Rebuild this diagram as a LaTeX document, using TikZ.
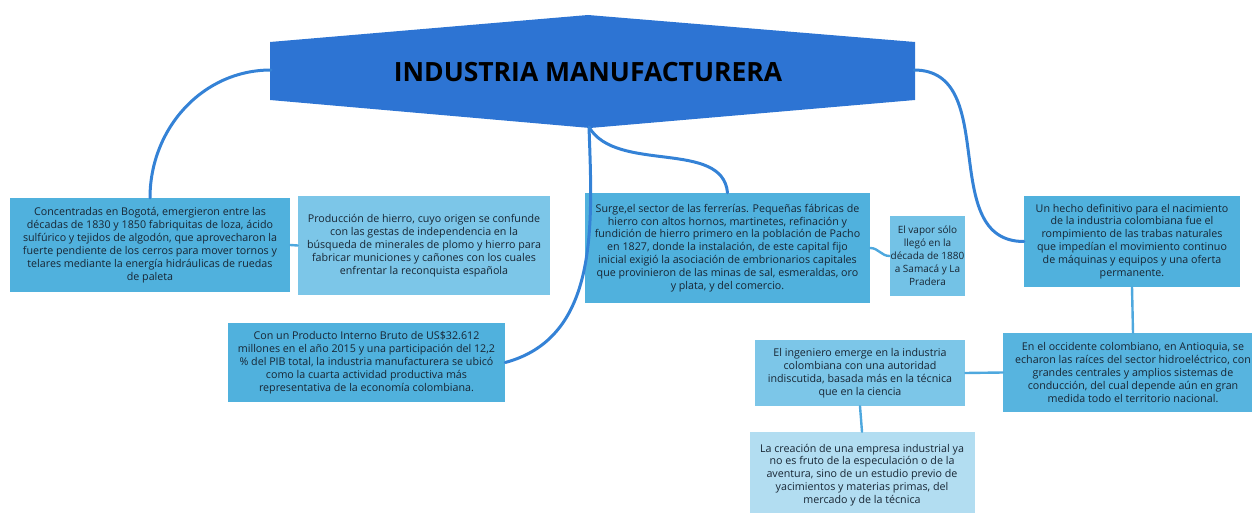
\documentclass[tikz,border=0pt]{standalone}
\usepackage{fontspec}
\setmainfont{Open Sans}
\definecolor{azulhex}{RGB}{45,116,211}
\definecolor{linea}{RGB}{52,130,214}
\definecolor{lineaclara}{RGB}{78,168,222}
\definecolor{cajamedia}{RGB}{80,177,221}
\definecolor{cajaclara}{RGB}{124,198,232}
\definecolor{cajapalida}{RGB}{178,221,241}
\definecolor{textoosc}{RGB}{24,38,52}

\begin{document}
\begin{tikzpicture}[x=1pt,y=-1pt,
  caja/.style={rectangle,fill=cajamedia,text=textoosc,align=center,inner sep=2pt,
    font=\fontsize{10.7}{12.9}\selectfont},
  rama/.style={linea,line width=3pt,line cap=round},
  enlace/.style={lineaclara,line width=2.4pt,line cap=round}]
   \useasboundingbox (0,0) rectangle (1252,513);
   \clip (0,0) rectangle (1252,513);
   % titulo central
   \fill[azulhex] (270,42) -- (588,15) -- (915,42) -- (915,100) -- (590,128) -- (270,100) -- cycle;
   \node[font=\fontsize{26.5}{30}\bfseries\selectfont] (titulo) at (588,72) {INDUSTRIA MANUFACTURERA};
   \coordinate (hexizq) at (271,70);
   \coordinate (hexder) at (914,70);
   \coordinate (hexabajo) at (589,127);
   % cajas
   \node[caja,minimum width=280pt,minimum height=94pt] (bogota) at (150,245)
     {Concentradas en Bogotá, emergieron entre las\\décadas de 1830 y 1850 fabriquitas de loza, ácido\\sulfúrico y tejidos de algodón, que aprovecharon la\\fuerte pendiente de los cerros para mover tornos y\\telares mediante la energía hidráulicas de ruedas\\de paleta};
   \node[caja,fill=cajaclara,minimum width=252pt,minimum height=99pt] (hierro) at (424,245.5)
     {Producción de hierro, cuyo origen se confunde\\con las gestas de independencia en la\\búsqueda de minerales de plomo y hierro para\\fabricar municiones y cañones con los cuales\\enfrentar la reconquista española};
   \node[caja,minimum width=285pt,minimum height=110pt] (ferrerias) at (727.5,248)
     {Surge,el sector de las ferrerías. Pequeñas fábricas de\\hierro con altos hornos, martinetes, refinación y\\fundición de hierro primero en la población de Pacho\\en 1827, donde la instalación, de este capital fijo\\inicial exigió la asociación de embrionarios capitales\\que provinieron de las minas de sal, esmeraldas, oro\\y plata, y del comercio.};
   \node[caja,fill=cajaclara!80!cajamedia,inner sep=1pt,minimum width=75pt,minimum height=80pt,
     font=\fontsize{10}{12.9}\selectfont] (vapor) at (927.5,256)
     {El vapor sólo\\llegó en la\\década de 1880\\a Samacá y La\\Pradera};
   \node[caja,minimum width=216pt,minimum height=91pt] (hecho) at (1132,241.5)
     {Un hecho definitivo para el nacimiento\\de la industria colombiana fue el\\rompimiento de las trabas naturales\\que impedían el movimiento continuo\\de máquinas y equipos y una oferta\\permanente.};
   \node[caja,minimum width=277pt,minimum height=79pt] (pib) at (366.5,362.5)
     {Con un Producto Interno Bruto de US\$32.612\\millones en el año 2015 y una participación del 12,2\\\% del PIB total, la industria manufacturera se ubicó\\como la cuarta actividad productiva más\\representativa de la economía colombiana.};
   \node[caja,fill=cajaclara,minimum width=210pt,minimum height=66pt] (ingeniero) at (860,373)
     {El ingeniero emerge en la industria\\colombiana con una autoridad\\indiscutida, basada más en la técnica\\que en la ciencia};
   \node[caja,fill=cajamedia!85!cajaclara,minimum width=260pt,minimum height=79pt] (occidente) at (1133,372.5)
     {En el occidente colombiano, en Antioquia, se\\echaron las raíces del sector hidroeléctrico, con\\grandes centrales y amplios sistemas de\\conducción, del cual depende aún en gran\\medida todo el territorio nacional.};
   \node[caja,fill=cajapalida,minimum width=225pt,minimum height=86pt] (empresa) at (862,475)
     {La creación de una empresa industrial ya\\no es fruto de la especulación o de la\\aventura, sino de un estudio previo de\\yacimientos y materias primas, del\\mercado y de la técnica};
   % ramas
   \draw[rama] (hexizq) to[out=180,in=90] (bogota.north);
   \draw[rama] (hexabajo) to[out=-88,in=15] (pib.east);
   \draw[rama] (hexabajo) to[out=-60,in=95,looseness=0.9] (ferrerias.north);
   \draw[rama] (hexder) to[out=0,in=180,looseness=1.1] (hecho.west);
   \draw[enlace] (bogota.east) to[out=0,in=180] (hierro.west);
   \draw[enlace] (ferrerias.east) to[out=0,in=180] (vapor.west);
   \draw[enlace] (hecho.south) -- (occidente.north);
   \draw[enlace] (occidente.west) -- (ingeniero.east);
   \draw[enlace] (ingeniero.south) -- (empresa.north);
\end{tikzpicture}
\end{document}
